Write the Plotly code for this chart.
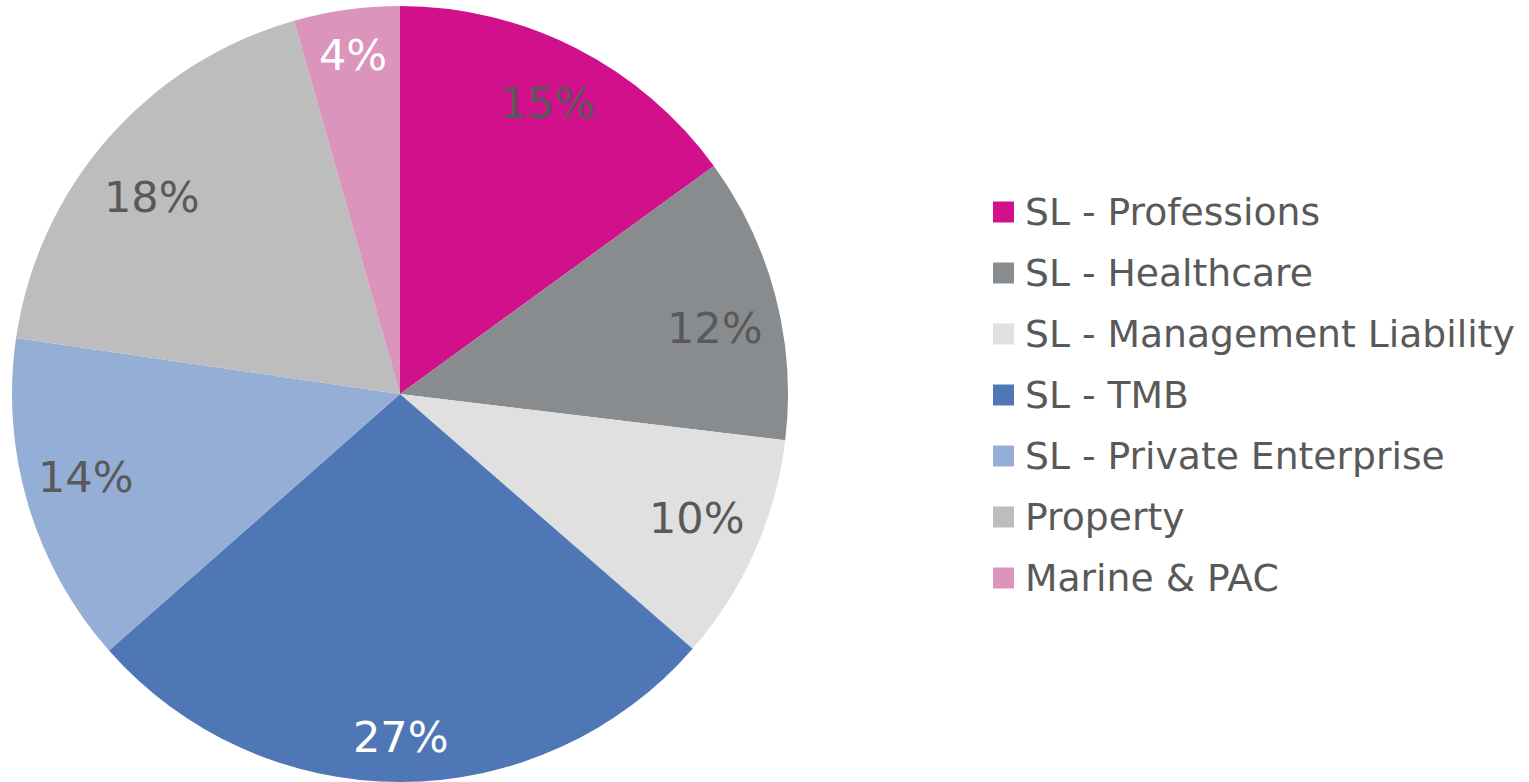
import math
import plotly.graph_objects as go

categories = ["SL - Professions", "SL - Healthcare", "SL - Management Liability",
              "SL - TMB", "SL - Private Enterprise", "Property", "Marine & PAC"]
values = [15.0, 11.9, 9.5, 27.1, 13.8, 18.3, 4.4]

# styles
colors = ["#D0118B", "#898C8E", "#E0E0E0", "#4F77B6", "#95AED6", "#BDBDBD", "#DB94BC"]
label_colors = ["#595959", "#595959", "#595959", "#FFFFFF", "#595959", "#595959", "#FFFFFF"]
label_radius = [0.841, 0.829, 0.830, 0.884, 0.837, 0.816, 0.882]
label_angle_nudge = [0.0, 2.7, -1.3, 0.0, 1.7, -2.8, 0.0]  # degrees, clockwise

W, H = 1529, 782
FONT = "Verdana, DejaVu Sans, sans-serif"
# pie placement in pixels
cx, cy, R = 400, 394, 388

fig = go.Figure(go.Pie(
    labels=categories, values=values, sort=False, direction="clockwise", rotation=0,
    marker=dict(colors=colors, line=dict(width=0)),
    textinfo="none", hoverinfo="label+percent", showlegend=False,
    domain=dict(x=[(cx - R) / W, (cx + R) / W], y=[1 - (cy + R) / H, 1 - (cy - R) / H]),
))

total = sum(values)
cum = 0
annotations = []
for v, col, rf, nd in zip(values, label_colors, label_radius, label_angle_nudge):
    mid = cum + v / 2
    cum += v
    ang = math.radians(90 - (360 * mid / total + nd))
    px = cx + rf * R * math.cos(ang)
    py = cy - rf * R * math.sin(ang)
    annotations.append(dict(x=px / W, y=1 - py / H, xref="paper", yref="paper",
                            text=f"{100 * v / total:.0f}%", showarrow=False,
                            font=dict(family=FONT, size=43, color=col),
                            xanchor="center", yanchor="middle"))

# legend
shapes = []
lx, ly0, dy, sq = 993, 212, 61, 21
for i, (cat, col) in enumerate(zip(categories, colors)):
    y = ly0 + i * dy
    shapes.append(dict(type="rect", xref="paper", yref="paper",
                       x0=lx / W, x1=(lx + sq) / W,
                       y0=1 - (y + sq / 2) / H, y1=1 - (y - sq / 2) / H,
                       fillcolor=col, line=dict(width=0)))
    annotations.append(dict(x=(lx + sq + 9) / W, y=1 - y / H, xref="paper", yref="paper",
                            text=cat, showarrow=False, xanchor="left", yanchor="middle",
                            font=dict(family=FONT, size=37.7, color="#595959")))

fig.update_layout(width=W, height=H, margin=dict(l=0, r=0, t=0, b=0),
                  paper_bgcolor="white", plot_bgcolor="white",
                  annotations=annotations, shapes=shapes)
fig.write_html("out.html", config={"displayModeBar": False},
               post_script="document.body.style.margin='0';document.body.style.overflow='hidden';")
